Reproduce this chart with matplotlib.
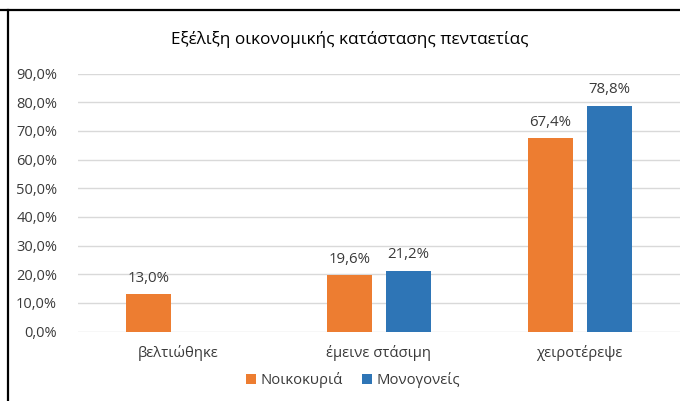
import matplotlib
matplotlib.use("Agg")
import matplotlib.pyplot as plt
from matplotlib.lines import Line2D
import numpy as np

plt.rcParams['font.family'] = ['Open Sans', 'DejaVu Sans']

title = "Εξέλιξη οικονομικής κατάστασης πενταετίας"
categories = ["βελτιώθηκε", "έμεινε στάσιμη", "χειροτέρεψε"]
series_names = ["Νοικοκυριά", "Μονογονείς"]
households = [13.0, 19.6, 67.4]
single_parents = [None, 21.2, 78.8]
yticks = [0, 10, 20, 30, 40, 50, 60, 70, 80, 90]

colors = ["#ED7D31", "#2E75B6"]
txt = '#3a3a3a'

W, H = 680, 401
fig = plt.figure(figsize=(W/100, H/100), dpi=100)
ax = fig.add_axes([78/W, 1-331.5/H, (W-78)/W, (331.5-73.5)/H])

x = np.arange(len(categories))
bw = 0.224
off = 0.147
for vals, c, name, sgn in [(households, colors[0], series_names[0], -1),
                           (single_parents, colors[1], series_names[1], 1)]:
    xs = [xi + sgn*off for xi, v in zip(x, vals) if v is not None]
    vs = [v for v in vals if v is not None]
    ax.bar(xs, vs, width=bw, color=c, label=name, zorder=3)
    for xx, v in zip(xs, vs):
        ax.annotate(f"{v:.1f}%".replace('.', ','), (xx, v), xytext=(0, 6),
                    textcoords='offset points', ha='center', va='bottom',
                    fontsize=10.8, color=txt)

ax.set_xlim(-0.5, 2.5)
ax.set_ylim(0, 90)
ax.set_yticks(yticks)
ax.set_yticklabels([f"{t:.1f}%".replace('.', ',') for t in yticks], fontsize=10.5, color=txt)
ax.set_xticks(x)
ax.set_xticklabels(categories, fontsize=10.7, color=txt)
ax.tick_params(axis='both', length=0)
ax.tick_params(axis='y', pad=15)
ax.tick_params(axis='x', pad=10)
ax.grid(axis='y', color='#d9d9d9', linewidth=1, zorder=0)
for s in ax.spines.values():
    s.set_visible(False)

fig.text(350/W, 1-40/H, title, ha='center', va='center', fontsize=12.3, color='#000000')

fig.legend(loc='center', bbox_to_anchor=(353/W, 1-380/H), ncol=2, frameon=False,
           fontsize=10.7, handlelength=0.7, handleheight=0.7, handletextpad=0.3,
           columnspacing=1.3, labelcolor=txt)

fig.add_artist(Line2D([0, 1], [1-9.5/H, 1-9.5/H], color='black', linewidth=1.6))
fig.add_artist(Line2D([7.5/W, 7.5/W], [0, 1-9.5/H], color='black', linewidth=1.6))

fig.savefig("out.png", dpi=100)
